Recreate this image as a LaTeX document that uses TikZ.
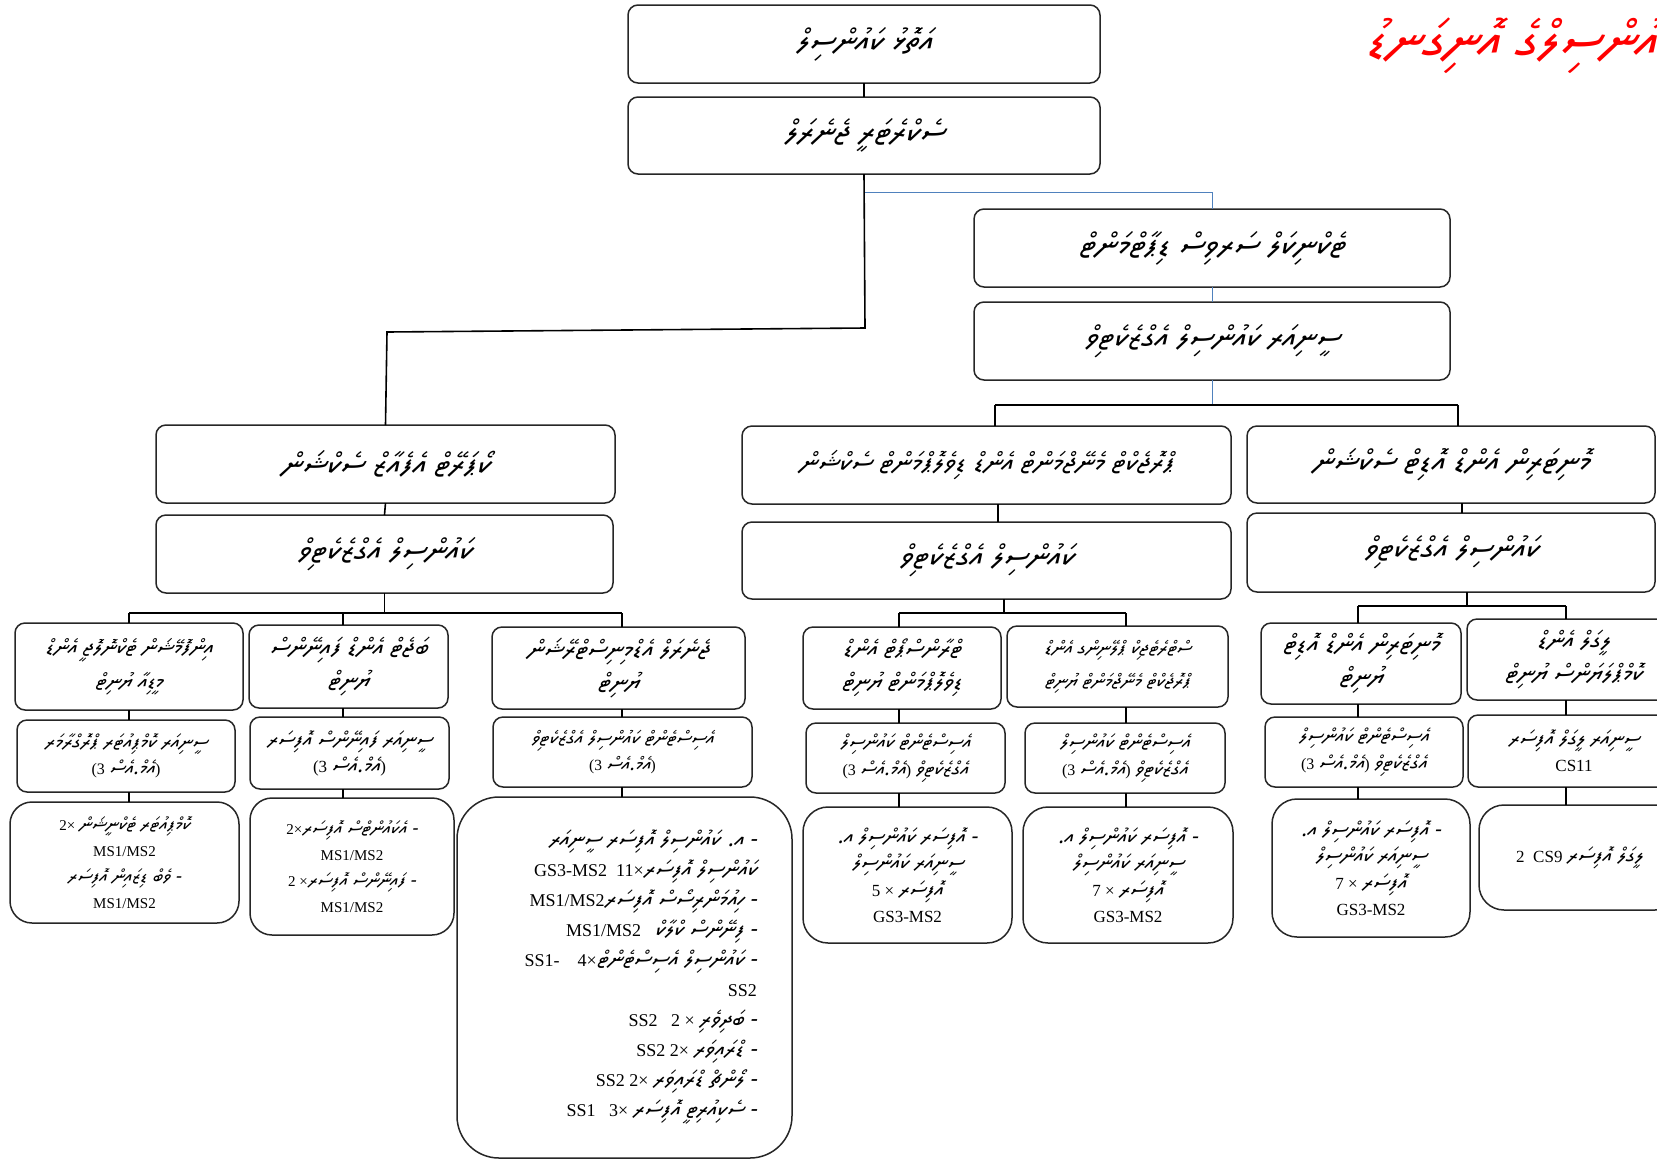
\documentclass[tikz,border=0pt]{standalone}
\usepackage{fontspec}
\setmainfont{Liberation Serif}
\IfFontExistsTF{Noto Sans Thaana}
  {\newfontfamily\dv{Noto Sans Thaana}[Script=Thaana,FakeSlant=0.2,Scale=1.25]}
  {\newfontfamily\dv{DejaVu Sans}[FakeSlant=0.2]}
\TeXXeTstate=1
\newcommand\rt[1]{{\dv\beginR #1\endR}}
\newcommand\fz[2]{\fontsize{#1}{#2}\selectfont}
\definecolor{lineblue}{RGB}{79,129,189}
\tikzset{
  bx/.style={draw=black!85, line width=1.5pt, rounded corners=10pt, inner sep=0pt, outer sep=0pt, align=center, fill=white},
  ln/.style={draw=black, line width=1.6pt},
  bl/.style={draw=lineblue, line width=1pt},
  ttl/.style={text=red, inner sep=0pt, font=\fz{43}{48}\bfseries},
}
\newcommand\obox[7][]{\node[bx,minimum width={#5-#3},minimum height={#6-#4},#1] (#2) at ({(#3+#5)/2},{(#4+#6)/2}) {#7};}
\begin{document}
\begin{tikzpicture}[x=1pt,y=-1pt]
\useasboundingbox (0,0) rectangle (1657,1160);
% title
\node[ttl,anchor=base west] (title) at (1365,57) {\rt{ކައުންސިލްގެ އޮނިގަނޑު}};
% top
\obox[font=\fz{26}{30}]{b1}{628}{5}{1100}{83}{\rt{އަތޮޅު ކައުންސިލް}}
\obox[font=\fz{26}{30}]{b2}{628}{97}{1100}{174}{\rt{ސެކްރެޓަރީ ޖެނެރަލް}}
\obox[font=\fz{26}{30}]{b3}{974}{209}{1450}{287}{\rt{ޓެކްނިކަލް ސަރވިސް ޑިޕާޓްމަންޓް}}
\obox[font=\fz{25}{30}]{b4}{974}{302}{1450}{380}{\rt{ސީނިއަރ ކައުންސިލް އެގްޒެކެޓިވް}}
% sections
\obox[font=\fz{25}{30}]{s1}{156}{425}{615}{503}{\rt{ކޯޕަރޭޓް އެފެއާޒް ސެކްޝަން}}
\obox[font=\fz{25}{30}]{s1b}{156}{515}{613}{593}{\rt{ކައުންސިލް އެގްޒެކެޓިވް}}
\obox[font=\fz{22}{26}]{s2}{742}{426}{1231}{504}{\rt{ޕްރޮޖެކްޓް މެނޭޖްމަންޓް އެންޑް ޑިވެލޮޕްމަންޓް ސެކްޝަން}}
\obox[font=\fz{25}{30}]{s2b}{742}{522}{1231}{599}{\rt{ކައުންސިލް އެގްޒެކެޓިވް}}
\obox[font=\fz{25}{30}]{s3}{1247}{426}{1655}{503}{\rt{މޮނިޓަރިން އެންޑް އޮޑިޓް ސެކްޝަން}}
\obox[font=\fz{25}{30}]{s3b}{1247}{513}{1655}{592}{\rt{ކައުންސިލް އެގްޒެކެޓިވް}}
% left group
\obox[font=\fz{17.5}{33}]{A}{15}{623}{243}{710}{\rt{އިންފޮމޭޝަން ޓެކްނޮލޮޖީ އެންޑް}\\\rt{މީޑިއާ ޔުނިޓް}}
\obox[font=\fz{16}{26}]{Am}{17}{720}{235}{792}{\rt{ސީނިއަރ ކޮމްޕިއުޓަރ ޕްރޮގްރާމަރ}\\(3 \rt{އެމް.އެސް})}
\obox[font=\fz{15}{26},rounded corners=22pt]{Ab}{10}{802}{239}{923}{2× \rt{ކޮމްޕިއުޓަރ ޓެކްނީޝަން}\\MS1/MS2\\\rt{- ވެބް ޑިޒައިން އޮފިސަރ}\\MS1/MS2}
\obox[font=\fz{20}{33}]{B}{249}{625}{448}{708}{\rt{ބަޖެޓް އެންޑް ފައިނޭންސް}\\\rt{ޔުނިޓް}}
\obox[font=\fz{17}{26}]{Bm}{250}{717}{449}{789}{\rt{ސީނިއަރ ފައިނޭންސް އޮފިސަރ}\\(3 \rt{އެމް.އެސް})}
\obox[font=\fz{15}{26},rounded corners=22pt]{Bb}{250}{798}{454}{935}{2×\rt{- އެކައުންޓްސް އޮފިސަރ}\\MS1/MS2\\2 ×\rt{- ފައިނޭންސް އޮފިސަރ}\\MS1/MS2}
\obox[font=\fz{20}{33}]{C}{492}{627}{745}{709}{\rt{ޖެނެރަލް އެޑްމިނިސްޓްރޭޝަން}\\\rt{ޔުނިޓް}}
\obox[font=\fz{15.5}{26}]{Cm}{493}{717}{752}{787}{\rt{އެސިސްޓެންޓް ކައުންސިލް އެގްޒެކެޓިވް}\\(3 \rt{އެމް.އެސް})}
\obox[rounded corners=42pt]{Cb}{457}{797}{792}{1158}{}
\node[font=\fz{18}{30},align=right,anchor=north east,inner sep=0pt] (Cbt) at (757,830) {%
\rt{- އ. ކައުންސިލް އޮފިސަރ ސީނިއަރ}\\
GS3-MS2\ \ 11×\rt{ކައުންސިލް އޮފިސަރ}\\
MS1/MS2\rt{- ހިއުމަންރިސޯސް އޮފިސަރ}\\
MS1/MS2\ \ \ \rt{- ފިނޭންސް ކްލާކް}\\
SS1-\ \ \ \ 4×\rt{- ކައުންސިލް އެސިސްޓެންޓް}\\
SS2\\
SS2\ \ \ 2 × \rt{- ބަދިވެރި}\\
SS2\ 2× \rt{- ޑްރައިވަރ}\\
SS2\ 2× \rt{- ލޯންޗް ޑްރައިވަރ}\\
SS1\ \ \ 3× \rt{- ސެކިއުރިޓީ އޮފިސަރ}};
% center group
\obox[font=\fz{19}{33}]{D}{803}{627}{1001}{709}{\rt{ޓްރާންސްޕޯޓް އެންޑް}\\\rt{ޑިވެލޮޕްމަންޓް ޔުނިޓް}}
\obox[font=\fz{16}{27}]{Dm}{806}{723}{1005}{793}{\rt{އެސިސްޓެންޓް ކައުންސިލް}\\(3 \rt{އެމް.އެސް}) \rt{އެގްޒެކެޓިވް}}
\obox[font=\fz{17}{26.5},rounded corners=25pt]{Db}{803}{807}{1012}{943}{\rt{- އޮފިސަރ ކައުންސިލް އ.}\\\rt{ސީނިއަރ ކައުންސިލް}\\5 × \rt{އޮފިސަރ}\\GS3-MS2}
\obox[font=\fz{15.5}{33}]{E}{1007}{626}{1228}{707}{\rt{ސްޓްރެޓެޖިކް ޕްލޭނިންގ އެންޑް}\\\rt{ޕްރޮޖެކްޓް މެނޭޖްމަންޓް ޔުނިޓް}}
\obox[font=\fz{16}{27}]{Em}{1025}{723}{1225}{793}{\rt{އެސިސްޓެންޓް ކައުންސިލް}\\(3 \rt{އެމް.އެސް}) \rt{އެގްޒެކެޓިވް}}
\obox[font=\fz{17}{26.5},rounded corners=25pt]{Eb}{1023}{807}{1233}{943}{\rt{- އޮފިސަރ ކައުންސިލް އ.}\\\rt{ސީނިއަރ ކައުންސިލް}\\7 × \rt{އޮފިސަރ}\\GS3-MS2}
% right group
\obox[font=\fz{21}{33}]{F}{1261}{623}{1461}{704}{\rt{މޮނިޓަރިން އެންޑް އޮޑިޓް}\\\rt{ޔުނިޓް}}
\obox[font=\fz{16}{27}]{Fm}{1265}{717}{1463}{787}{\rt{އެސިސްޓެންޓް ކައުންސިލް}\\(3 \rt{އެމް.އެސް}) \rt{އެގްޒެކެޓިވް}}
\obox[font=\fz{17}{26.5},rounded corners=25pt]{Fb}{1272}{799}{1470}{937}{\rt{- އޮފިސަރ ކައުންސިލް އ.}\\\rt{ސީނިއަރ ކައުންސިލް}\\7 × \rt{އޮފިސަރ}\\GS3-MS2}
\obox[font=\fz{20}{33}]{G}{1467}{619}{1680}{700}{\rt{ލީގަލް އެންޑް}\\\rt{ކޮމްޕްލަޔަންސް ޔުނިޓް}}
\obox[font=\fz{17}{26}]{Gm}{1468}{715}{1680}{787}{\rt{ސީނިއަރ ލީގަލް އޮފިސަރ}\\CS11}
\obox[font=\fz{17}{26},rounded corners=25pt]{Gb}{1479}{805}{1680}{910}{2\ \ CS9 \rt{ލީގަލް އޮފިސަރ}}
% coordinates
\coordinate (k1) at (865,328);
\coordinate (k2) at (387,332);
\coordinate (u1) at (865,192);
\coordinate (hR) at (995,405);
\coordinate (hR2) at (1458,405);
\coordinate (xA) at (129,613);
\coordinate (xB) at (343,613);
\coordinate (xC) at (622,613);
\coordinate (xD) at (899,613);
\coordinate (xE) at (1126,613);
\coordinate (xF) at (1358,606);
\coordinate (xG) at (1566,606);
\coordinate (x2) at (998,0);
\coordinate (x2b) at (1004,0);
\coordinate (x3) at (1462,0);
\coordinate (x3b) at (1467,0);
% connectors
\draw[ln] (b1.south) -- (b2.north);
\draw[ln] (b2.south) -- (k1) -- (k2) -- (s1.north);
\draw[bl] (u1) -| (b3.north);
\draw[bl] (b3.south) -- (b4.north);
\draw[bl] (b4.south) -- (b4.south |- hR);
\draw[ln] (hR) -- (hR2);
\draw[ln] (hR) -- (hR |- s2.north);
\draw[ln] (hR2) -- (hR2 |- s3.north);
\draw[ln] (s1.south) -- (s1b.north);
\draw[ln] (s2.south -| x2) -- (s2b.north -| x2);
\draw[ln] (s3.south -| x3) -- (s3b.north -| x3);
% left tree
\draw[ln] (s1b.south) -- (s1b.south |- xA);
\draw[ln] (xA) -- (xC);
\draw[ln] (xA) -- (xA |- A.north);
\draw[ln] (xB) -- (xB |- B.north);
\draw[ln] (xC) -- (xC |- C.north);
\draw[ln] (A.south -| xA) -- (Am.north -| xA);
\draw[ln] (Am.south -| xA) -- (Ab.north -| xA);
\draw[ln] (B.south -| xB) -- (Bm.north -| xB);
\draw[ln] (Bm.south -| xB) -- (Bb.north -| xB);
\draw[ln] (C.south -| xC) -- (Cm.north -| xC);
\draw[ln] (Cm.south -| xC) -- (Cb.north -| xC);
% center tree
\draw[ln] (s2b.south -| x2b) -- (x2b |- xD);
\draw[ln] (xD) -- (xE);
\draw[ln] (xD) -- (xD |- D.north);
\draw[ln] (xE) -- (xE |- E.north);
\draw[ln] (D.south -| xD) -- (Dm.north -| xD);
\draw[ln] (Dm.south -| xD) -- (Db.north -| xD);
\draw[ln] (E.south -| xE) -- (Em.north -| xE);
\draw[ln] (Em.south -| xE) -- (Eb.north -| xE);
% right tree
\draw[ln] (s3b.south -| x3b) -- (x3b |- xF);
\draw[ln] (xF) -- (xG);
\draw[ln] (xF) -- (xF |- F.north);
\draw[ln] (xG) -- (xG |- G.north);
\draw[ln] (F.south -| xF) -- (Fm.north -| xF);
\draw[ln] (Fm.south -| xF) -- (Fb.north -| xF);
\draw[ln] (G.south -| xG) -- (Gm.north -| xG);
\draw[ln] (Gm.south -| xG) -- (Gb.north -| xG);
\end{tikzpicture}
\end{document}
